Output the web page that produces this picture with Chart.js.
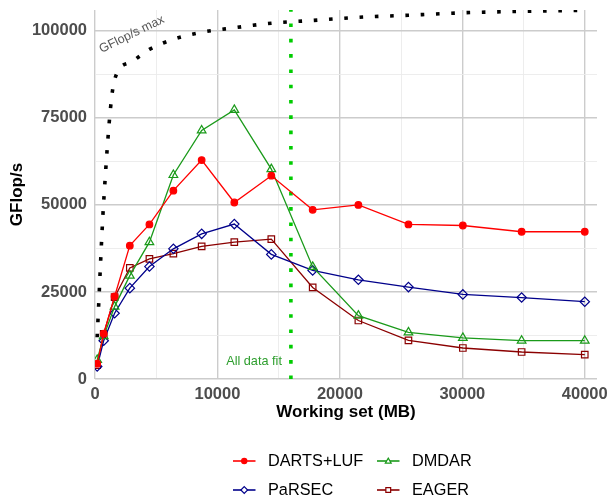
<!DOCTYPE html>
<html>
<head>
<meta charset="utf-8">
<script src="https://cdn.jsdelivr.net/npm/chart.js@4/dist/chart.umd.min.js"></script>
<style>
  html, body { margin: 0; padding: 0; background: #ffffff; }
  #wrap { width: 609px; height: 498px; position: relative; }
</style>
</head>
<body>
<div id="wrap"><canvas id="c" width="609" height="498"></canvas></div>
<script>
// ---- data ----
const workingSet = [178, 711, 1600, 2844, 4444, 6400, 8711, 11378, 14400, 17778, 21511, 25600, 30044, 34844, 40000];
const dartsLuf   = [4400, 13000, 23700, 38300, 44400, 54100, 62900, 50700, 58400, 48600, 50000, 44400, 44100, 42300, 42300];
const dmdar      = [5500, 12300, 20800, 29700, 39300, 58600, 71400, 77300, 60300, 32200, 18200, 13400, 11800, 11000, 11000];
const parsec     = [3600, 11000, 18900, 26100, 32300, 37400, 41700, 44500, 35800, 31200, 28500, 26400, 24300, 23400, 22200];
const eager      = [4000, 13000, 23500, 31900, 34500, 36000, 38100, 39300, 40200, 26300, 16800, 11100, 8900, 7750, 7000];
const gflopsMax  = [12000, 51000, 86000, 90900, 94700, 97600, 99600, 100900, 102200, 103000, 103900, 104500, 105200, 105600, 105900];
const allDataFitX = 16000;
const seriesNames = ['DARTS+LUF', 'DMDAR', 'PaRSEC', 'EAGER'];
const xTickLabels = [0, 10000, 20000, 30000, 40000];
const xMinorTicks = [5000, 15000, 25000, 35000];
const yTickLabels = [0, 25000, 50000, 75000, 100000];
const yMinorTicks = [12500, 37500, 62500, 87500];
const xTitle = 'Working set (MB)';
const yTitle = 'GFlop/s';
const maxLabel = 'GFlop/s max';
const fitLabel = 'All data fit';

const FONT = '"Liberation Sans", Arial, Helvetica, sans-serif';
const pts = (ys) => workingSet.map((x, i) => ({ x: x, y: ys[i] }));

const styles = [
  { color: '#ff0000', pointStyle: 'circle',   radius: 3.3, fill: true },
  { color: '#1a9a1a', pointStyle: 'triangle', radius: 5.0, fill: false },
  { color: '#00008b', pointStyle: 'rectRot',  radius: 4.7, fill: false },
  { color: '#8b0000', pointStyle: 'rect',     radius: 4.6, fill: false }
];
const seriesValues = [dartsLuf, dmdar, parsec, eager];

const seriesDatasets = seriesNames.map((name, i) => ({
  label: name,
  data: pts(seriesValues[i]),
  showLine: true,
  borderColor: styles[i].color,
  backgroundColor: styles[i].fill ? styles[i].color : 'rgba(255,255,255,0)',
  borderWidth: 1.3,
  pointStyle: styles[i].pointStyle,
  pointRadius: styles[i].radius,
  pointBorderWidth: 1.2,
  pointBorderColor: styles[i].color,
  pointBackgroundColor: styles[i].fill ? styles[i].color : 'rgba(255,255,255,0)',
  order: 1 + i
}));

const datasets = [
  ...seriesDatasets,
  {
    label: maxLabel,
    data: pts(gflopsMax),
    showLine: true,
    borderColor: '#000000',
    borderWidth: 3.6,
    borderDash: [3.6, 11.7],
    borderCapStyle: 'butt',
    cubicInterpolationMode: 'monotone',
    pointRadius: 0,
    order: 10
  },
  {
    label: fitLabel,
    data: [{ x: allDataFitX, y: 0 }, { x: allDataFitX, y: 106000 }],
    showLine: true,
    borderColor: '#00cc00',
    borderWidth: 3.6,
    borderDash: [3.6, 11.7],
    borderCapStyle: 'butt',
    pointRadius: 0,
    order: 9
  }
];

function drawMarker(ctx, st, x, y, r) {
  ctx.save();
  ctx.strokeStyle = st.color;
  ctx.fillStyle = st.fill ? st.color : '#ffffff';
  ctx.lineWidth = 1.2;
  ctx.beginPath();
  if (st.pointStyle === 'circle') {
    ctx.arc(x, y, r, 0, Math.PI * 2);
  } else if (st.pointStyle === 'triangle') {
    for (let k = 0; k < 3; k++) {
      const a = -Math.PI / 2 + k * 2 * Math.PI / 3;
      const px = x + r * Math.cos(a), py = y + r * Math.sin(a) + r * 0.15;
      if (k === 0) ctx.moveTo(px, py); else ctx.lineTo(px, py);
    }
    ctx.closePath();
  } else if (st.pointStyle === 'rectRot') {
    ctx.moveTo(x, y - r); ctx.lineTo(x + r, y); ctx.lineTo(x, y + r); ctx.lineTo(x - r, y); ctx.closePath();
  } else {
    const s = r * Math.SQRT1_2;
    ctx.rect(x - s, y - s, 2 * s, 2 * s);
  }
  ctx.fill();
  ctx.stroke();
  ctx.restore();
}

const annotPlugin = {
  id: 'annot',
  afterDraw(chart) {
    const ctx = chart.ctx;
    const xs = chart.scales.x, ys = chart.scales.y;
    const area = chart.chartArea;
    ctx.save();
    ctx.fillStyle = '#000000';
    ctx.font = 'bold 17px ' + FONT;
    ctx.textAlign = 'center';
    ctx.textBaseline = 'middle';
    ctx.fillText(xTitle, (area.left + area.right) / 2, 412);
    ctx.save();
    ctx.translate(17, (area.top + area.bottom) / 2);
    ctx.rotate(-Math.PI / 2);
    ctx.fillText(yTitle, 0, 0);
    ctx.restore();

    ctx.save();
    ctx.fillStyle = '#555555';
    ctx.font = '12.5px ' + FONT;
    ctx.translate(xs.getPixelForValue(3000), ys.getPixelForValue(99000));
    ctx.rotate(-26 * Math.PI / 180);
    ctx.textAlign = 'center';
    ctx.textBaseline = 'middle';
    ctx.fillText(maxLabel, 0, 0);
    ctx.restore();

    ctx.fillStyle = '#2e9e2e';
    ctx.font = '12.7px ' + FONT;
    ctx.textAlign = 'right';
    ctx.textBaseline = 'middle';
    ctx.fillText(fitLabel, xs.getPixelForValue(allDataFitX) - 9, ys.getPixelForValue(5000));

    const cols = [233, 377];
    const rows = [461, 490];
    ctx.font = '16.3px ' + FONT;
    ctx.textAlign = 'left';
    ctx.textBaseline = 'middle';
    seriesNames.forEach((name, i) => {
      const cx = cols[i % 2], cy = rows[Math.floor(i / 2)];
      const st = styles[i];
      ctx.strokeStyle = st.color;
      ctx.lineWidth = 1.6;
      ctx.beginPath();
      ctx.moveTo(cx, cy); ctx.lineTo(cx + 22.5, cy);
      ctx.stroke();
      drawMarker(ctx, st, cx + 11.25, cy, st.pointStyle === 'circle' ? 2.6 : 3.4);
      ctx.fillStyle = '#000000';
      ctx.fillText(name, cx + 35, cy + 1);
    });
    ctx.restore();
  }
};

const isMajor = (list) => (c) => c.tick && list.includes(c.tick.value);

new Chart(document.getElementById('c'), {
  type: 'scatter',
  data: { datasets: datasets },
  options: {
    responsive: false,
    animation: false,
    devicePixelRatio: 1,
    layout: { padding: { left: 0, right: 12, top: 10, bottom: 0 } },
    plugins: { legend: { display: false }, tooltip: { enabled: false } },
    scales: {
      x: {
        type: 'linear',
        min: 0,
        max: 41000,
        border: { display: false },
        grid: {
          drawTicks: false,
          color: (c) => isMajor(xTickLabels)(c) ? '#cccccc' : '#ebebeb',
          lineWidth: (c) => isMajor(xTickLabels)(c) ? 1.4 : 0.9
        },
        afterBuildTicks: (s) => {
          s.ticks = xTickLabels.concat(xMinorTicks).sort((a, b) => a - b).map(v => ({ value: v }));
        },
        ticks: {
          autoSkip: false,
          maxRotation: 0,
          padding: 6,
          color: '#4d4d4d',
          font: { family: FONT, size: 16.5, weight: 'bold' },
          callback: (v) => xTickLabels.includes(v) ? String(v) : ''
        },
        afterFit: (s) => { s.height = 119; s.paddingLeft = 0; s.paddingRight = 0; }
      },
      y: {
        type: 'linear',
        min: 0,
        max: 106000,
        border: { display: false },
        grid: {
          drawTicks: false,
          color: (c) => isMajor(yTickLabels)(c) ? '#cccccc' : '#ebebeb',
          lineWidth: (c) => isMajor(yTickLabels)(c) ? 1.4 : 0.9
        },
        afterBuildTicks: (s) => {
          s.ticks = yTickLabels.concat(yMinorTicks).sort((a, b) => a - b).map(v => ({ value: v }));
        },
        ticks: {
          autoSkip: false,
          padding: 8,
          color: '#4d4d4d',
          font: { family: FONT, size: 16.5, weight: 'bold' },
          callback: (v) => yTickLabels.includes(v) ? String(v) : ''
        },
        afterFit: (s) => { s.width = 95; s.paddingTop = 0; s.paddingBottom = 0; }
      }
    }
  },
  plugins: [annotPlugin]
});
</script>
</body>
</html>
